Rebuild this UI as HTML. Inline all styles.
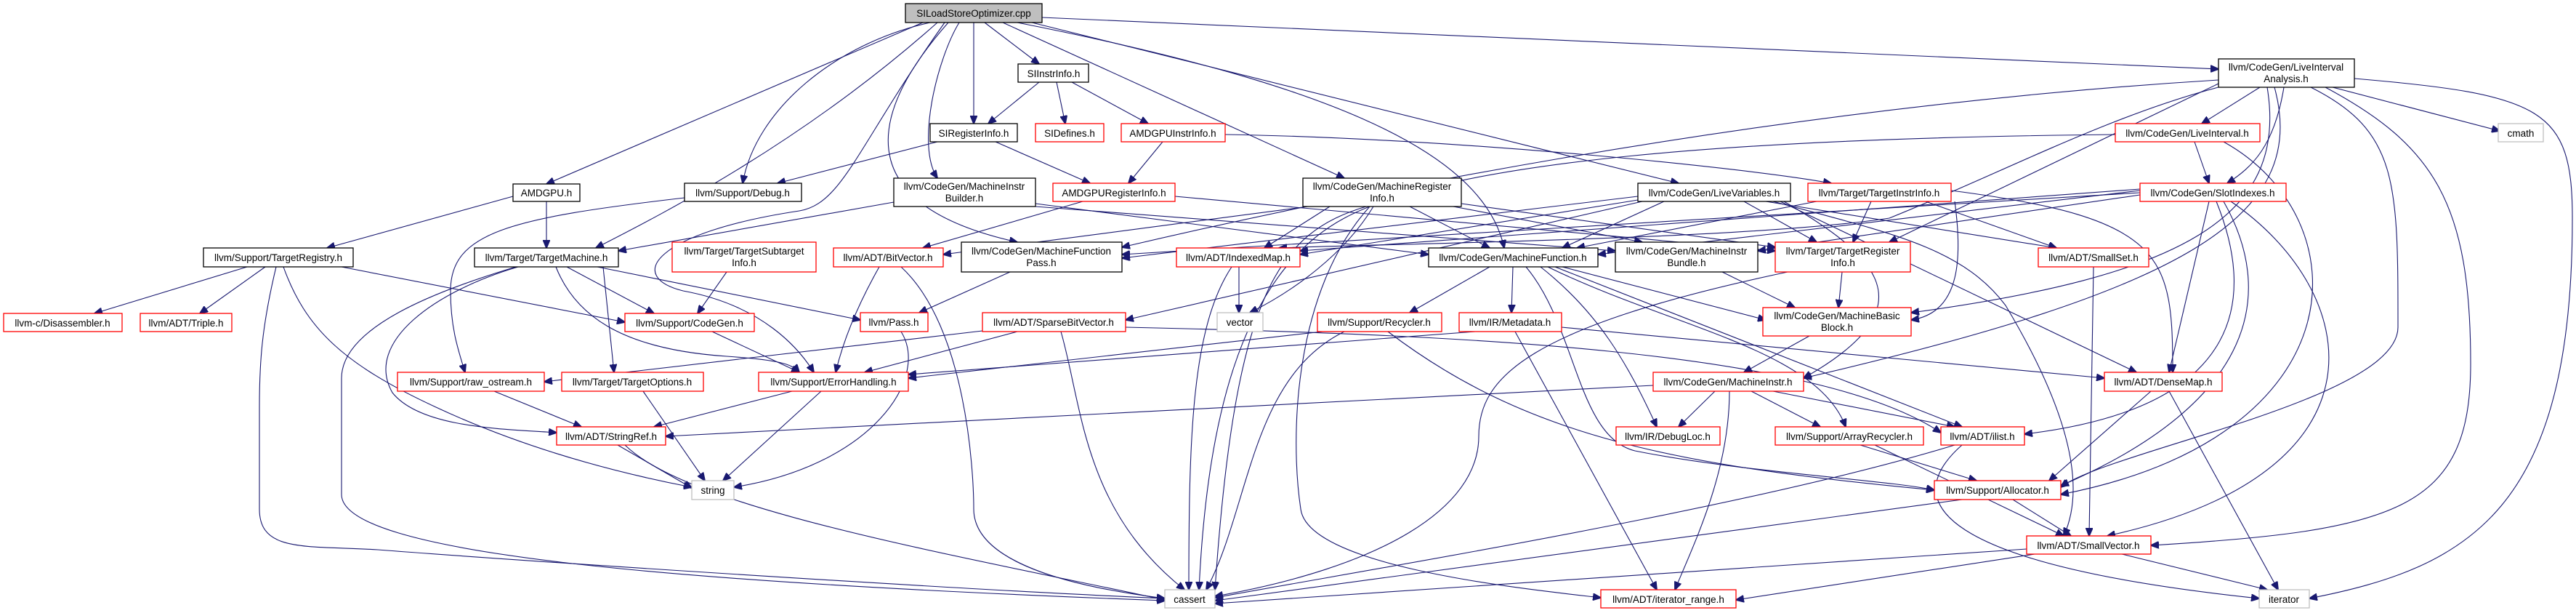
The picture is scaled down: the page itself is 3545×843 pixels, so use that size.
<!DOCTYPE html>
<html><head><meta charset="utf-8"><style>
html,body{margin:0;padding:0;background:#fff}
svg{display:block}
text{font-family:"Liberation Sans",sans-serif;font-size:13.5px;fill:#000}
.b{fill:#fff;stroke:#000;stroke-width:1.3}
.r{fill:#fff;stroke:#f00;stroke-width:1.3}
.g{fill:#fff;stroke:#bfbfbf;stroke-width:1.3}
.e path{fill:none;stroke:#191970;stroke-width:1.1;marker-end:url(#a)}
</style></head><body>
<svg width="3545" height="843" viewBox="0 0 3545 843" xmlns="http://www.w3.org/2000/svg">
<defs><marker id="a" markerWidth="12" markerHeight="10" refX="11" refY="5" orient="auto" markerUnits="userSpaceOnUse"><path d="M0,0 L12,5 L0,10 z" fill="#191970" stroke="#191970"/></marker></defs>
<g class="e">
<path d="M1270 31 L752 253"/>
<path d="M1280 31 C1150 60 1040 150 1022 252"/>
<path d="M1355 31 L1430 88"/>
<path d="M1340 31 L1340 170"/>
<path d="M1320 31 C1290 80 1260 200 1290 245"/>
<path d="M1305 31 C1200 150 1160 280 1400 333"/>
<path d="M1290 31 C1100 200 900 300 820 341"/>
<path d="M1300 31 C1180 200 1160 280 1100 290 C900 320 860 380 940 400 C1050 420 1100 480 1120 512"/>
<path d="M1380 31 L1850 245"/>
<path d="M1400 31 C1800 110 2040 200 2070 341"/>
<path d="M1420 31 L2310 252"/>
<path d="M1434 24 L3053 95"/>
<path d="M706 270 L450 341"/>
<path d="M752 277 L752 341"/>
<path d="M340 367 L130 431"/>
<path d="M365 367 L275 431"/>
<path d="M470 367 L860 443"/>
<path d="M390 367 C420 450 470 500 600 560 C750 630 900 660 952 670"/>
<path d="M380 367 C360 450 357 500 357 560 L357 700 C357 760 420 750 520 756 C700 770 1300 810 1603 823"/>
<path d="M710 367 C600 400 470 450 470 520 L470 680 C470 760 900 800 1603 826"/>
<path d="M713 367 C600 400 500 470 540 540 C580 590 700 590 766 595"/>
<path d="M780 367 L900 431"/>
<path d="M830 367 L845 512"/>
<path d="M765 367 C790 430 850 480 1000 490 C1070 495 1090 500 1100 512"/>
<path d="M822 367 L1184 440"/>
<path d="M680 538 L800 587"/>
<path d="M942 272 C700 300 620 320 620 400 C620 450 630 480 640 512"/>
<path d="M1290 195 L1070 252"/>
<path d="M1370 195 L1500 252"/>
<path d="M1430 113 L1360 170"/>
<path d="M1454 113 L1466 170"/>
<path d="M1475 113 L1580 170"/>
<path d="M1600 195 L1553 252"/>
<path d="M1686 185 C2000 190 2400 230 2520 252"/>
<path d="M1490 277 L1270 341"/>
<path d="M1617 270 L2443 345"/>
<path d="M1230 278 L851 345"/>
<path d="M1425 280 L1966 350"/>
<path d="M1425 284 L2223 345"/>
<path d="M1000 374 L960 431"/>
<path d="M1210 367 C1180 420 1160 470 1150 512"/>
<path d="M1240 367 C1330 450 1340 650 1340 700 C1340 780 1500 810 1603 823"/>
<path d="M1390 374 L1265 430"/>
<path d="M1240 456 C1280 520 1200 640 1010 670"/>
<path d="M1705 367 L1705 430"/>
<path d="M1695 367 C1640 450 1636 600 1636 811"/>
<path d="M1400 456 L1190 512"/>
<path d="M1460 456 C1490 560 1490 700 1630 811"/>
<path d="M1352 455 L749 525"/>
<path d="M1549 450 C2000 460 2500 480 2671 595"/>
<path d="M980 456 L1100 512"/>
<path d="M1090 538 L900 587"/>
<path d="M1130 538 L995 661"/>
<path d="M885 538 L970 661"/>
<path d="M850 612 L952 671"/>
<path d="M860 612 C950 700 1300 760 1603 825"/>
<path d="M1940 284 L2050 341"/>
<path d="M1830 284 L1740 341"/>
<path d="M1800 284 L1298 350"/>
<path d="M2011 280 L2443 340"/>
<path d="M2000 284 L2260 333"/>
<path d="M1890 284 C1850 350 1780 400 1720 430"/>
<path d="M1885 284 C1780 400 1775 600 1790 700 C1800 780 2100 810 2203 822"/>
<path d="M1880 284 C1760 320 1700 400 1672 811"/>
<path d="M2254 270 L1544 355"/>
<path d="M2254 275 L1789 350"/>
<path d="M2290 277 L2150 341"/>
<path d="M2400 277 L2500 333"/>
<path d="M2430 277 L2830 341"/>
<path d="M2260 277 L1549 440"/>
<path d="M2455 277 C2580 350 2660 420 2482 520"/>
<path d="M2440 277 C2600 320 2700 340 2760 420 C2820 520 2880 650 2840 737"/>
<path d="M2450 277 L2940 512"/>
<path d="M2500 277 L2170 341"/>
<path d="M2575 277 L2550 333"/>
<path d="M2650 277 L2830 341"/>
<path d="M2685 262 C2980 300 2990 350 2990 512"/>
<path d="M2690 277 C2700 350 2700 430 2630 440"/>
<path d="M2050 367 L1940 430"/>
<path d="M2082 367 L2080 430"/>
<path d="M2150 367 L2430 440"/>
<path d="M2120 367 C2200 430 2240 500 2280 587"/>
<path d="M2130 367 C2300 450 2500 480 2540 587"/>
<path d="M2140 367 L2700 587"/>
<path d="M2100 367 C2170 450 2170 600 2250 620 C2400 650 2600 660 2662 674"/>
<path d="M2370 374 L2470 423"/>
<path d="M2535 374 L2530 423"/>
<path d="M2460 374 C2100 450 2035 520 2035 600 C2035 700 1900 780 1672 820"/>
<path d="M1820 456 L1250 520"/>
<path d="M1910 456 C2100 600 2300 640 2662 674"/>
<path d="M1850 456 C1720 520 1720 700 1660 811"/>
<path d="M2085 456 L2280 811"/>
<path d="M2149 450 L2896 520"/>
<path d="M2030 456 L1250 515"/>
<path d="M2490 462 L2400 512"/>
<path d="M2275 530 L916 600"/>
<path d="M2360 538 L2310 587"/>
<path d="M2410 538 L2505 587"/>
<path d="M2440 538 L2690 587"/>
<path d="M2380 538 C2380 650 2330 750 2305 811"/>
<path d="M2560 612 L2720 661"/>
<path d="M2580 612 L2840 737"/>
<path d="M2690 612 C2400 700 1900 780 1672 822"/>
<path d="M2700 612 C2600 700 2700 780 3109 823"/>
<path d="M2770 687 L2850 737"/>
<path d="M2700 687 L1672 826"/>
<path d="M2789 755 L1672 830"/>
<path d="M2800 762 L2389 825"/>
<path d="M2920 762 L3120 811"/>
<path d="M2960 538 L2820 661"/>
<path d="M2985 538 L3135 811"/>
<path d="M2881 367 L2875 737"/>
<path d="M3110 120 L3030 170"/>
<path d="M3143 120 C3130 200 3100 230 3065 252"/>
<path d="M3210 120 L3440 180"/>
<path d="M3240 108 C3500 130 3540 150 3540 300 C3540 700 3400 780 3178 823"/>
<path d="M3200 120 C3350 200 3400 280 3400 500 C3400 700 3300 730 2960 750"/>
<path d="M3180 120 C3300 180 3300 250 3300 450 C3300 550 2900 620 2836 670"/>
<path d="M3120 120 C3150 300 3000 380 2630 430"/>
<path d="M3053 120 C2900 160 2750 240 2600 300 C2400 330 1900 335 1760 341"/>
<path d="M3053 115 L2600 333"/>
<path d="M3053 110 C2400 150 1800 280 1544 340"/>
<path d="M3130 120 C3180 300 3000 400 2482 520"/>
<path d="M3020 195 L3040 252"/>
<path d="M2911 185 C2400 190 2000 220 1850 300 C1700 380 1660 600 1650 811"/>
<path d="M3060 195 C3250 300 3250 600 2836 680"/>
<path d="M2945 262 L2199 350"/>
<path d="M2945 265 L1544 350"/>
<path d="M2945 268 L2419 345"/>
<path d="M3040 277 L2985 512"/>
<path d="M3050 277 C3100 400 3100 560 2786 597"/>
<path d="M3060 277 C3130 400 3110 550 2836 668"/>
<path d="M3070 277 C3250 400 3300 650 2900 737"/>
<path d="M2945 260 L1789 345"/>
</g>
<g text-anchor="middle">
<rect x="1246" y="5" width="188" height="26" fill="#bfbfbf" stroke="#000" stroke-width="1.3"/><text x="1340" y="23">SILoadStoreOptimizer.cpp</text>
<rect class="b" x="706" y="253" width="92" height="24"/><text x="752" y="270">AMDGPU.h</text>
<rect class="b" x="280" y="341" width="206" height="26"/><text x="383" y="359">llvm/Support/TargetRegistry.h</text>
<rect class="b" x="653" y="341" width="198" height="26"/><text x="752" y="359">llvm/Target/TargetMachine.h</text>
<rect class="r" x="5" y="431" width="163" height="25"/><text x="86" y="449">llvm-c/Disassembler.h</text>
<rect class="r" x="193" y="431" width="126" height="25"/><text x="256" y="449">llvm/ADT/Triple.h</text>
<rect class="r" x="547" y="512" width="202" height="26"/><text x="648" y="530">llvm/Support/raw_ostream.h</text>
<rect class="r" x="766" y="587" width="150" height="25"/><text x="841" y="605">llvm/ADT/StringRef.h</text>
<rect class="r" x="773" y="512" width="195" height="26"/><text x="870" y="530">llvm/Target/TargetOptions.h</text>
<rect class="r" x="860" y="431" width="178" height="25"/><text x="949" y="449">llvm/Support/CodeGen.h</text>
<rect class="b" x="1401" y="88" width="97" height="25"/><text x="1450" y="106">SIInstrInfo.h</text>
<rect class="b" x="1280" y="170" width="120" height="25"/><text x="1340" y="188">SIRegisterInfo.h</text>
<rect class="r" x="1425" y="170" width="94" height="25"/><text x="1472" y="188">SIDefines.h</text>
<rect class="r" x="1543" y="170" width="143" height="25"/><text x="1614" y="188">AMDGPUInstrInfo.h</text>
<rect class="b" x="942" y="252" width="161" height="25"/><text x="1022" y="270">llvm/Support/Debug.h</text>
<rect class="b" x="1230" y="245" width="195" height="39"/><text x="1327" y="261">llvm/CodeGen/MachineInstr</text><text x="1327" y="277">Builder.h</text>
<rect class="r" x="1449" y="252" width="168" height="25"/><text x="1533" y="270">AMDGPURegisterInfo.h</text>
<rect class="r" x="925" y="333" width="198" height="41"/><text x="1024" y="350">llvm/Target/TargetSubtarget</text><text x="1024" y="366">Info.h</text>
<rect class="r" x="1147" y="341" width="151" height="26"/><text x="1222" y="359">llvm/ADT/BitVector.h</text>
<rect class="b" x="1323" y="333" width="221" height="41"/><text x="1433" y="350">llvm/CodeGen/MachineFunction</text><text x="1433" y="366">Pass.h</text>
<rect class="r" x="1619" y="341" width="170" height="26"/><text x="1704" y="359">llvm/ADT/IndexedMap.h</text>
<rect class="r" x="1184" y="430" width="93" height="26"/><text x="1230" y="448">llvm/Pass.h</text>
<rect class="r" x="1352" y="430" width="197" height="26"/><text x="1450" y="448">llvm/ADT/SparseBitVector.h</text>
<rect class="g" x="1675" y="430" width="63" height="26"/><text x="1706" y="448">vector</text>
<rect class="r" x="1044" y="512" width="206" height="26"/><text x="1147" y="530">llvm/Support/ErrorHandling.h</text>
<rect class="g" x="952" y="661" width="58" height="26"/><text x="981" y="679">string</text>
<rect class="g" x="1603" y="811" width="69" height="25"/><text x="1637" y="829">cassert</text>
<rect class="b" x="1793" y="245" width="218" height="39"/><text x="1902" y="261">llvm/CodeGen/MachineRegister</text><text x="1902" y="277">Info.h</text>
<rect class="b" x="2254" y="252" width="210" height="25"/><text x="2359" y="270">llvm/CodeGen/LiveVariables.h</text>
<rect class="r" x="2488" y="252" width="197" height="25"/><text x="2586" y="270">llvm/Target/TargetInstrInfo.h</text>
<rect class="b" x="1966" y="341" width="233" height="26"/><text x="2082" y="359">llvm/CodeGen/MachineFunction.h</text>
<rect class="b" x="2223" y="333" width="196" height="41"/><text x="2321" y="350">llvm/CodeGen/MachineInstr</text><text x="2321" y="366">Bundle.h</text>
<rect class="r" x="2443" y="333" width="186" height="41"/><text x="2536" y="350">llvm/Target/TargetRegister</text><text x="2536" y="366">Info.h</text>
<rect class="r" x="1813" y="430" width="171" height="26"/><text x="1898" y="448">llvm/Support/Recycler.h</text>
<rect class="r" x="2008" y="430" width="141" height="26"/><text x="2078" y="448">llvm/IR/Metadata.h</text>
<rect class="r" x="2426" y="423" width="204" height="39"/><text x="2528" y="439">llvm/CodeGen/MachineBasic</text><text x="2528" y="455">Block.h</text>
<rect class="r" x="2275" y="512" width="207" height="26"/><text x="2378" y="530">llvm/CodeGen/MachineInstr.h</text>
<rect class="r" x="2224" y="587" width="143" height="25"/><text x="2295" y="605">llvm/IR/DebugLoc.h</text>
<rect class="r" x="2443" y="587" width="204" height="25"/><text x="2545" y="605">llvm/Support/ArrayRecycler.h</text>
<rect class="r" x="2203" y="811" width="186" height="25"/><text x="2296" y="829">llvm/ADT/iterator_range.h</text>
<rect class="b" x="3053" y="81" width="187" height="39"/><text x="3146" y="97">llvm/CodeGen/LiveInterval</text><text x="3146" y="113">Analysis.h</text>
<rect class="r" x="2911" y="170" width="199" height="25"/><text x="3010" y="188">llvm/CodeGen/LiveInterval.h</text>
<rect class="g" x="3438" y="170" width="62" height="25"/><text x="3469" y="188">cmath</text>
<rect class="r" x="2945" y="252" width="201" height="25"/><text x="3045" y="270">llvm/CodeGen/SlotIndexes.h</text>
<rect class="r" x="2805" y="341" width="152" height="26"/><text x="2881" y="359">llvm/ADT/SmallSet.h</text>
<rect class="r" x="2896" y="512" width="162" height="26"/><text x="2977" y="530">llvm/ADT/DenseMap.h</text>
<rect class="r" x="2671" y="587" width="115" height="25"/><text x="2728" y="605">llvm/ADT/ilist.h</text>
<rect class="r" x="2662" y="661" width="174" height="26"/><text x="2749" y="679">llvm/Support/Allocator.h</text>
<rect class="r" x="2789" y="737" width="171" height="25"/><text x="2874" y="755">llvm/ADT/SmallVector.h</text>
<rect class="g" x="3109" y="811" width="69" height="25"/><text x="3143" y="829">iterator</text>
</g>
</svg>
</body></html>
